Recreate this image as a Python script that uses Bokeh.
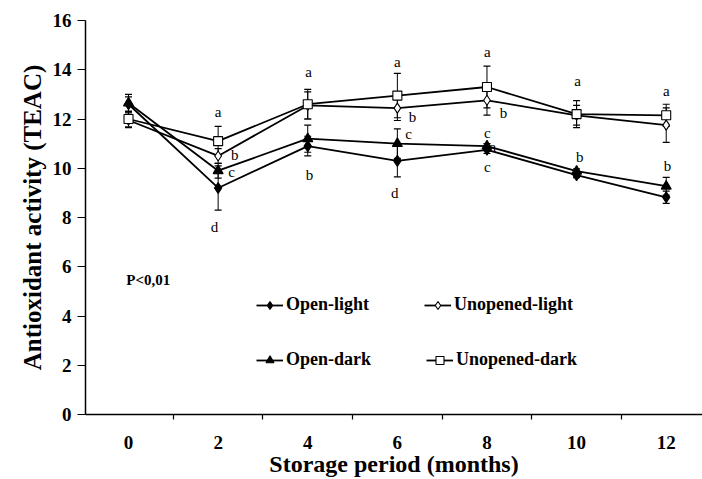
from bokeh.plotting import figure
from bokeh.models import (ColumnDataSource, FixedTicker, Whisker, TeeHead, Legend,
                          LegendItem, Range1d, Label, Title)
from bokeh.core.properties import value
from bokeh.embed import file_html
from bokeh.resources import INLINE

# ---- data ----
months = [0, 2, 4, 6, 8, 10, 12]
open_light = [12.6, 9.2, 10.9, 10.3, 10.75, 9.72, 8.82]
open_light_err = [0.3, 0.9, 0.4, 0.65, 0.15, 0.1, 0.25]
unopened_light = [11.95, 10.5, 12.55, 12.44, 12.76, 12.15, 11.75]
unopened_light_err = [0.3, 0.3, 0.55, 0.5, 0.6, 0.4, 0.7]
open_dark = [12.65, 9.9, 11.2, 11.0, 10.9, 9.88, 9.27]
open_dark_err = [0.35, 0.3, 0.55, 0.6, 0.1, 0.1, 0.36]
unopened_dark = [12.0, 11.1, 12.6, 12.95, 13.3, 12.2, 12.15]
unopened_dark_err = [0.32, 0.6, 0.6, 0.9, 0.85, 0.55, 0.45]

y_ticks = [0, 2, 4, 6, 8, 10, 12, 14, 16]
x_minor_ticks = [1, 3, 5, 7, 9, 11]

sig_text = ["a", "b", "c", "d", "a", "b", "a", "b", "c", "d",
            "a", "b", "c", "c", "a", "a", "b", "a", "b"]
sig_x = [2.0, 2.37, 2.30, 1.92, 4.02, 4.04, 6.0, 6.34, 6.25, 5.94,
         8.01, 8.37, 8.01, 8.01, 8.13, 10.02, 10.07, 12.0, 12.03]
sig_y = [12.28, 10.53, 9.84, 7.6, 13.9, 9.72, 14.3, 12.07, 11.38, 8.98,
         14.72, 12.24, 11.42, 10.04, 10.87, 13.54, 10.45, 13.13, 10.08]

SERIF = "Liberation Serif"

p = figure(width=702, height=479, x_range=Range1d(-0.96, 12.81), y_range=Range1d(0, 16),
           output_backend="svg", toolbar_location=None,
           min_border_left=85, min_border_right=0, min_border_top=20, min_border_bottom=65)
p.xgrid.visible = False
p.ygrid.visible = False
p.outline_line_color = None
p.background_fill_color = "white"
p.border_fill_color = "white"

# x axis
xa = p.xaxis[0]
xa.ticker = FixedTicker(ticks=months, minor_ticks=x_minor_ticks)
xa.major_tick_in = 0
xa.major_tick_out = 0
xa.minor_tick_in = 0
xa.minor_tick_out = 5
xa.minor_tick_line_color = "black"
xa.minor_tick_line_width = 1.2
xa.axis_line_width = 1.5
xa.axis_line_color = "black"
xa.major_label_text_font = SERIF
xa.major_label_text_font_style = "bold"
xa.major_label_text_font_size = "19px"
xa.major_label_text_color = "black"
xa.major_label_standoff = 16
xa.axis_label = "Storage period (months)"
xa.axis_label_text_font = SERIF
xa.axis_label_text_font_style = "bold"
xa.axis_label_text_font_size = "24px"
xa.axis_label_text_color = "black"
xa.axis_label_standoff = -1

# y axis
ya = p.yaxis[0]
ya.ticker = FixedTicker(ticks=y_ticks, minor_ticks=[])
ya.major_tick_in = 0
ya.major_tick_out = 8
ya.major_tick_line_width = 1.2
ya.major_tick_line_color = "black"
ya.minor_tick_out = 0
ya.axis_line_width = 1.5
ya.axis_line_color = "black"
ya.major_label_text_font = SERIF
ya.major_label_text_font_style = "bold"
ya.major_label_text_font_size = "19px"
ya.major_label_text_color = "black"
ya.major_label_standoff = 6

# y axis title, shifted a little above the frame centre as in the original
p.add_layout(Title(text="Antioxidant activity (TEAC)", align="center", offset=13,
                   standoff=8, text_font=SERIF, text_font_style="bold",
                   text_font_size="25px", text_color="black"), "left")

series = [
    ("Open-light", open_light, open_light_err, "diamond", "black", 11),
    ("Unopened-light", unopened_light, unopened_light_err, "diamond", "white", 10),
    ("Open-dark", open_dark, open_dark_err, "triangle", "black", 10),
    ("Unopened-dark", unopened_dark, unopened_dark_err, "square", "white", 9),
]

# error bars
for name, vals, errs, mk, fill, sz in series:
    src = ColumnDataSource(dict(x=months,
                                upper=[v + e for v, e in zip(vals, errs)],
                                lower=[v - e for v, e in zip(vals, errs)]))
    w = Whisker(source=src, base="x", upper="upper", lower="lower", dimension="height",
                line_color="black", line_width=1,
                upper_head=TeeHead(size=7, line_color="black", line_width=1.2),
                lower_head=TeeHead(size=7, line_color="black", line_width=1.2))
    p.add_layout(w)

# lines
line_r = {}
for name, vals, errs, mk, fill, sz in series:
    line_r[name] = p.line(months, vals, line_color="black", line_width=1.8)

# significance letters
p.text(x=sig_x, y=sig_y, text=sig_text, text_font=value(SERIF), text_font_size="15px",
       text_align="center", text_baseline="middle", text_color="black")

# markers
mark_r = {}
for name, vals, errs, mk, fill, sz in series:
    mark_r[name] = p.scatter(months, vals, marker=mk, size=sz, fill_color=fill,
                             line_color="black", line_width=1.1)

# P value note
p.add_layout(Label(x=-0.05, y=5.45, text="P<0,01", text_font=SERIF, text_font_style="bold",
                   text_font_size="15px", text_align="left", text_baseline="middle",
                   text_color="black"))

def make_legend(names, loc):
    items = [LegendItem(label=n, renderers=[line_r[n], mark_r[n]]) for n in names]
    lg = Legend(items=items, orientation="horizontal", location=loc,
                padding=0, margin=0, spacing=55, glyph_width=27, glyph_height=20,
                label_standoff=3, label_height=20,
                label_text_font=SERIF, label_text_font_style="bold",
                label_text_font_size="18px", label_text_color="black",
                label_text_baseline="middle",
                background_fill_alpha=0, border_line_alpha=0)
    return lg

p.add_layout(make_legend(["Open-light", "Unopened-light"], (171, 99)))
p.add_layout(make_legend(["Open-dark", "Unopened-dark"], (171, 44)))

open("out.html", "w").write(file_html(p, INLINE))
